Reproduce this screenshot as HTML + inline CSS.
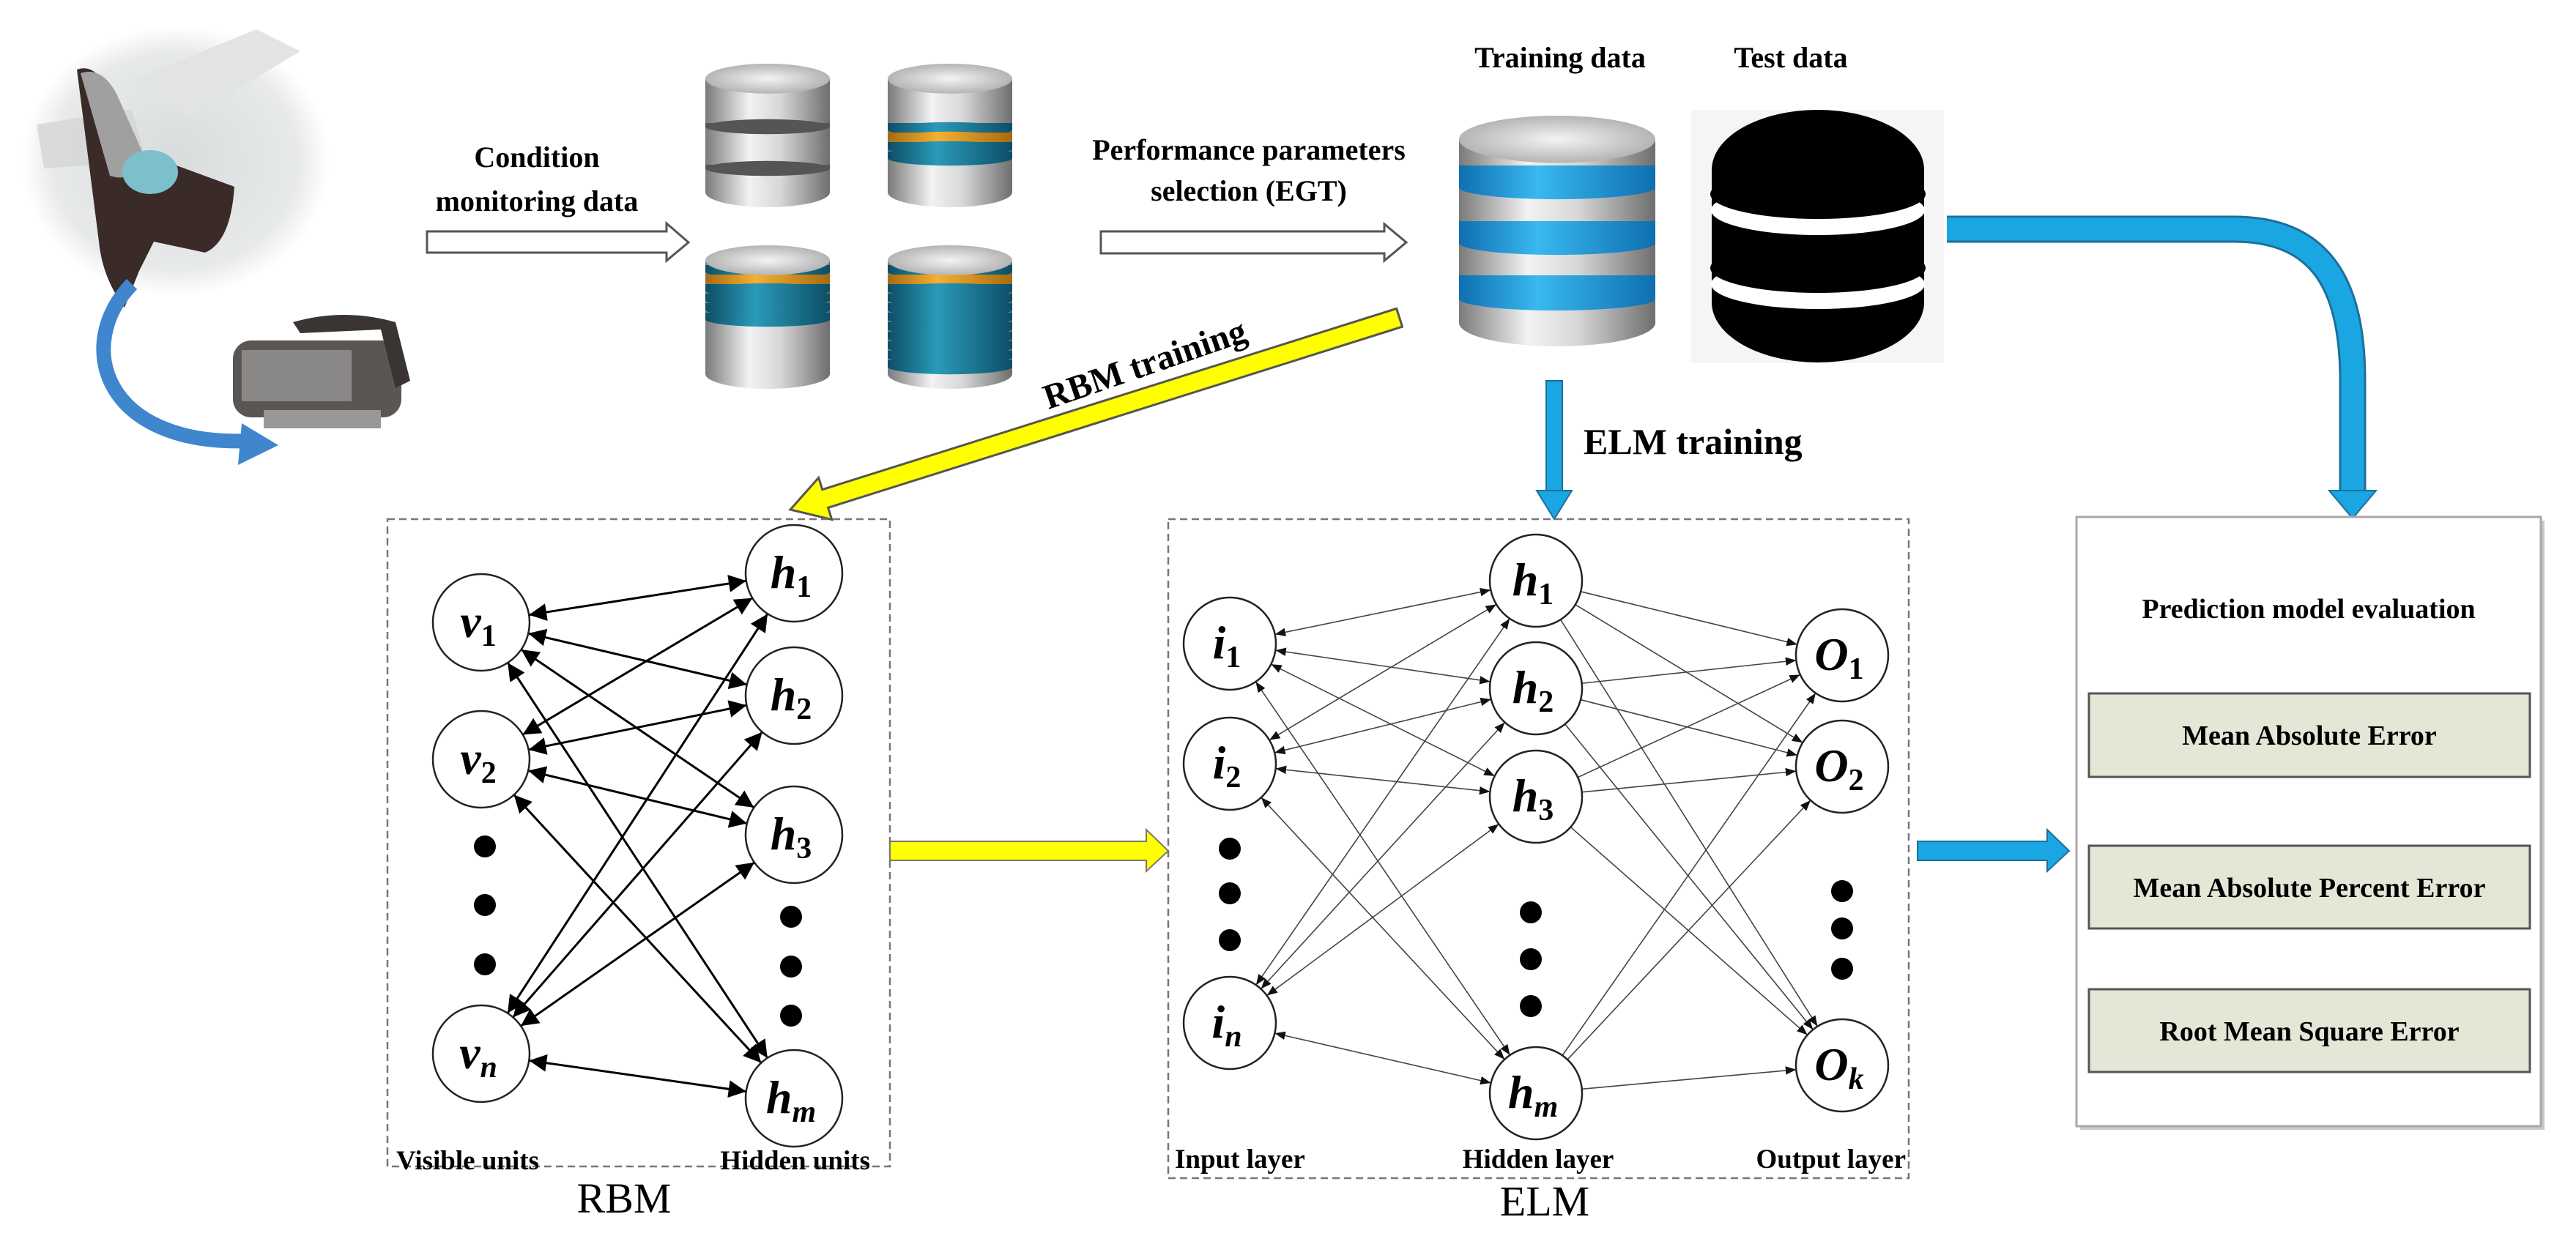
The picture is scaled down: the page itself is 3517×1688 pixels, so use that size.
<!DOCTYPE html>
<html><head><meta charset="utf-8"><style>
html,body{margin:0;padding:0;background:#fff;}
svg{display:block;}
text{font-family:"Liberation Serif","Times New Roman",serif;}
</style></head><body>
<svg id="s" width="3517" height="1688" viewBox="0 0 3517 1688" xmlns="http://www.w3.org/2000/svg">
<defs>
<linearGradient id="metal" x1="0" x2="1" y1="0" y2="0">
<stop offset="0" stop-color="#7a7a7a"/><stop offset="0.35" stop-color="#f2f2f2"/><stop offset="0.6" stop-color="#d8d8d8"/><stop offset="1" stop-color="#6e6e6e"/></linearGradient>
<radialGradient id="topg" cx="0.5" cy="0.5" r="0.6"><stop offset="0" stop-color="#f4f4f4"/><stop offset="1" stop-color="#a8a8a8"/></radialGradient>
<linearGradient id="teal" x1="0" x2="1"><stop offset="0" stop-color="#0d4e66"/><stop offset="0.4" stop-color="#2a9ab8"/><stop offset="1" stop-color="#0d4e66"/></linearGradient>
<linearGradient id="orng" x1="0" x2="1"><stop offset="0" stop-color="#a86a10"/><stop offset="0.4" stop-color="#f5b030"/><stop offset="1" stop-color="#a86a10"/></linearGradient>
<linearGradient id="blu" x1="0" x2="1"><stop offset="0" stop-color="#0e6fb0"/><stop offset="0.4" stop-color="#3ab8f0"/><stop offset="1" stop-color="#0e6fb0"/></linearGradient>
<radialGradient id="wing" cx="0.5" cy="0.5" r="0.5"><stop offset="0" stop-color="#d8dcdc"/><stop offset="0.8" stop-color="#e8eaea"/><stop offset="1" stop-color="#fff"/></radialGradient>
<marker id="mbig" viewBox="0 0 10 10" refX="10" refY="5" markerWidth="8" markerHeight="8" orient="auto-start-reverse"><path d="M0,0 L10,5 L0,10 z" fill="#000"/></marker>
<marker id="ms" viewBox="0 0 10 10" refX="10" refY="5" markerWidth="9" markerHeight="9" orient="auto-start-reverse"><path d="M0,1 L10,5 L0,9 z" fill="#111"/></marker>
</defs>

<!-- engine picture -->
<ellipse cx="240" cy="220" rx="210" ry="185" fill="url(#wing)"/>
<polygon points="180,110 350,40 410,70 260,160" fill="#e2e4e2"/>
<polygon points="50,170 180,150 200,220 60,230" fill="#d4d4d4" opacity="0.8"/>
<path d="M105,95 Q125,88 140,110 L170,200 L320,255 Q315,330 280,345 L210,330 L190,370 L170,420 Q140,380 135,330 Z" fill="#3a2a28"/>
<path d="M110,100 Q140,90 160,130 L200,220 Q180,250 150,240 Z" fill="#a0a0a0"/>
<ellipse cx="205" cy="235" rx="38" ry="30" fill="#7cc0cc"/>
<path d="M180,388 C100,470 140,610 340,602" fill="none" stroke="#3f86cf" stroke-width="20"/>
<polygon points="330,578 380,608 325,635" fill="#3f86cf"/>
<rect x="318" y="465" width="230" height="105" rx="25" fill="#5a5654"/>
<rect x="330" y="478" width="150" height="70" fill="#8a8886"/>
<path d="M400,440 Q470,420 540,440 L560,520 L540,530 L520,450 L410,455 Z" fill="#3a3432"/>
<rect x="360" y="560" width="160" height="25" fill="#9a9896"/>

<text x="733" y="228" font-size="40" font-weight="bold" text-anchor="middle">Condition</text>
<text x="733" y="288" font-size="40" font-weight="bold" text-anchor="middle">monitoring data</text>
<polygon points="583,316 910,316 910,305 940,331 910,356 910,345 583,345" fill="#fff" stroke="#555" stroke-width="3"/>

<g id="cyls"></g>

<text x="1705" y="218" font-size="40" font-weight="bold" text-anchor="middle">Performance parameters</text>
<text x="1705" y="274" font-size="40" font-weight="bold" text-anchor="middle">selection (EGT)</text>
<polygon points="1503,316 1890,316 1890,306 1920,331 1890,356 1890,346 1503,346" fill="#fff" stroke="#555" stroke-width="3"/>

<text x="2130" y="92" font-size="40" font-weight="bold" text-anchor="middle">Training data</text>
<text x="2445" y="92" font-size="40" font-weight="bold" text-anchor="middle">Test data</text>

<!-- test black cylinder -->
<rect x="2309" y="150" width="345" height="346" fill="#f5f5f5"/>
<path d="M2337,232 A145,82 0 0 1 2627,232 L2627,413 A145,82 0 0 1 2337,413 Z" fill="#000"/>
<ellipse cx="2482" cy="287" rx="146" ry="34" fill="#fff"/>
<ellipse cx="2482" cy="265" rx="147" ry="34" fill="#000"/>
<ellipse cx="2482" cy="388" rx="146" ry="34" fill="#fff"/>
<ellipse cx="2482" cy="366" rx="147" ry="34" fill="#000"/>
<rect x="2337" y="230" width="290" height="12" fill="#000"/>

<!-- blue curved -->
<path d="M2658,313 H3050 C3170,313 3212,390 3212,520 V675" fill="none" stroke="#1c6f9a" stroke-width="37"/>
<path d="M2658,313 H3050 C3170,313 3212,390 3212,520 V676" fill="none" stroke="#1aa6e2" stroke-width="31"/>
<polygon points="3180,670 3244,670 3212,708" fill="#1aa6e2" stroke="#1c6f9a" stroke-width="2"/>

<rect x="2111" y="520" width="22" height="152" fill="#1aa6e2" stroke="#1c6f9a" stroke-width="2"/>
<polygon points="2098,670 2146,670 2122,709" fill="#1aa6e2" stroke="#1c6f9a" stroke-width="2"/>
<text x="2162" y="620" font-size="50" font-weight="bold">ELM training</text>

<g transform="translate(1079,696) rotate(-17.5)">
<polygon points="0,0 50,-30 50,-13 872,-13 872,13 50,13 50,30" fill="#ffff00" stroke="#555" stroke-width="3"/>
</g>
<text x="0" y="0" font-size="48" font-weight="bold" transform="translate(1568,512) rotate(-19)" text-anchor="middle">RBM training</text>

<rect x="529" y="709" width="686" height="884" fill="none" stroke="#777" stroke-width="2.5" stroke-dasharray="10,6"/>
<text x="541" y="1597" font-size="37" font-weight="bold">Visible units</text>
<text x="1188" y="1597" font-size="37" font-weight="bold" text-anchor="end">Hidden units</text>
<text x="852" y="1656" font-size="58" text-anchor="middle">RBM</text>

<polygon points="1215,1149 1565,1149 1565,1133 1595,1162 1565,1190 1565,1175 1215,1175" fill="#ffff00" stroke="#777" stroke-width="2"/>

<rect x="1595" y="709" width="1011" height="900" fill="none" stroke="#777" stroke-width="2.5" stroke-dasharray="10,6"/>
<text x="1604" y="1595" font-size="37" font-weight="bold">Input layer</text>
<text x="2100" y="1595" font-size="37" font-weight="bold" text-anchor="middle">Hidden layer</text>
<text x="2602" y="1595" font-size="37" font-weight="bold" text-anchor="end">Output layer</text>
<text x="2109" y="1660" font-size="58" text-anchor="middle">ELM</text>

<polygon points="2618,1149 2795,1149 2795,1133 2825,1162 2795,1190 2795,1175 2618,1175" fill="#1aa6e2" stroke="#1c6f9a" stroke-width="2"/>

<rect x="2840" y="711" width="634" height="832" fill="#c8c8c8"/>
<rect x="2835" y="706" width="634" height="832" fill="#fff" stroke="#a8a8a8" stroke-width="3"/>
<text x="3152" y="844" font-size="38" font-weight="bold" text-anchor="middle">Prediction model evaluation</text>
<rect x="2852" y="947" width="602" height="114" fill="#e3e7d6" stroke="#555" stroke-width="3"/>
<text x="3153" y="1017" font-size="38" font-weight="bold" text-anchor="middle">Mean Absolute Error</text>
<rect x="2852" y="1155" width="602" height="113" fill="#e3e7d6" stroke="#555" stroke-width="3"/>
<text x="3153" y="1225" font-size="38" font-weight="bold" text-anchor="middle">Mean Absolute Percent Error</text>
<rect x="2852" y="1351" width="602" height="113" fill="#e3e7d6" stroke="#555" stroke-width="3"/>
<text x="3153" y="1421" font-size="38" font-weight="bold" text-anchor="middle">Root Mean Square Error</text>

<g id="net"></g>
</svg>
<script>
var NS="http://www.w3.org/2000/svg";
function el(p,t,a,txt){var e=document.createElementNS(NS,t);for(var k in a)e.setAttribute(k,a[k]);if(txt!==undefined)e.textContent=txt;p.appendChild(e);return e;}
var cy=document.getElementById("cyls");
function cyl(x,y0,w,y1,bands){
 var rx=w/2,ry=w*0.12,cx=x+rx;
 el(cy,"rect",{x:x,y:y0+ry,width:w,height:y1-y0-2*ry,fill:"url(#metal)"});
 el(cy,"ellipse",{cx:cx,cy:y1-ry,rx:rx,ry:ry,fill:"url(#metal)"});
 bands.forEach(function(b){
  el(cy,"rect",{x:x,y:b[0],width:w,height:b[1],fill:b[2]});
  el(cy,"ellipse",{cx:cx,cy:b[0]+b[1],rx:rx,ry:ry*0.5,fill:b[2]});
 });
 el(cy,"ellipse",{cx:cx,cy:y0+ry,rx:rx,ry:ry,fill:"url(#topg)"});
}
function grooves(ys){return ys.map(function(y){return [y,5,"#555"];});}
function stack(y,n,orangeIdx,h){var a=[];for(var i=0;i<n;i++)a.push([y+i*h,h-4,i==orangeIdx?"url(#orng)":"url(#teal)"]);return a;}
cyl(963,87,170,283,grooves([168,225]));
cyl(1212,87,170,283,stack(168,4,1,13));
cyl(963,335,170,531,stack(362,6,1,13));
cyl(1212,335,170,531,stack(362,11,1,13));
cyl(1992,158,268,473,[[226,30,"url(#blu)"],[302,30,"url(#blu)"],[376,32,"url(#blu)"]]);

var net=document.getElementById("net");
function node(x,y,r,b,s){
 el(net,"circle",{cx:x,cy:y,r:r,fill:"#fff",stroke:"#222","stroke-width":2.5});
 var t=el(net,"text",{x:x-4,y:y+20,"font-size":64,"font-weight":"bold","font-style":"italic","text-anchor":"middle"});
 var a=document.createElementNS(NS,"tspan");a.textContent=b;t.appendChild(a);
 var c=document.createElementNS(NS,"tspan");c.textContent=s;c.setAttribute("font-size","42");c.setAttribute("dy","12");
 if(/[0-9]/.test(s))c.setAttribute("font-style","normal");
 t.appendChild(c);
}
function dot(x,y){el(net,"circle",{cx:x,cy:y,r:15,fill:"#000"});}
function link(a,b,r,w,col,m1,m2){
 var dx=b[0]-a[0],dy=b[1]-a[1],L=Math.sqrt(dx*dx+dy*dy),ux=dx/L,uy=dy/L;
 var at={x1:a[0]+ux*r,y1:a[1]+uy*r,x2:b[0]-ux*r,y2:b[1]-uy*r,stroke:col,"stroke-width":w};
 if(m1)at["marker-start"]="url(#"+m1+")";
 if(m2)at["marker-end"]="url(#"+m2+")";
 el(net,"line",at);
}
var V=[[657,850,"v","1"],[657,1037,"v","2"],[657,1439,"v","n"]];
var H=[[1084,783,"h","1"],[1084,950,"h","2"],[1084,1140,"h","3"],[1084,1500,"h","m"]];
V.forEach(function(v){H.forEach(function(h){link(v,h,66,3,"#000","mbig","mbig");});});
V.forEach(function(v){node(v[0],v[1],66,v[2],v[3]);});
H.forEach(function(h){node(h[0],h[1],66,h[2],h[3]);});
[1156,1236,1317].forEach(function(y){dot(662,y);});
[1252,1320,1387].forEach(function(y){dot(1080,y);});
var I=[[1679,879,"i","1"],[1679,1043,"i","2"],[1679,1397,"i","n"]];
var EH=[[2097,793,"h","1"],[2097,940,"h","2"],[2097,1088,"h","3"],[2097,1493,"h","m"]];
var O=[[2515,895,"O","1"],[2515,1047,"O","2"],[2515,1455,"O","k"]];
I.forEach(function(a){EH.forEach(function(h){link(a,h,63,1.6,"#444","ms","ms");});});
EH.forEach(function(h){O.forEach(function(o){link(h,o,63,1.6,"#444",null,"ms");});});
I.forEach(function(v){node(v[0],v[1],63,v[2],v[3]);});
EH.forEach(function(v){node(v[0],v[1],63,v[2],v[3]);});
O.forEach(function(v){node(v[0],v[1],63,v[2],v[3]);});
[1159,1220,1284].forEach(function(y){dot(1679,y);});
[1246,1310,1374].forEach(function(y){dot(2090,y);});
[1217,1268,1323].forEach(function(y){dot(2515,y);});
</script>
</body></html>
